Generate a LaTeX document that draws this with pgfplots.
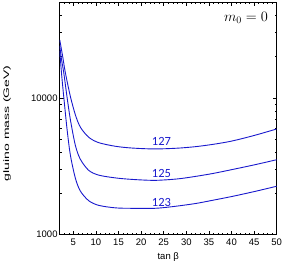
\documentclass[border=0pt]{standalone}
\usepackage{graphicx}
\usepackage{fontspec}
\setmainfont{Liberation Sans}
\newfontfamily\lblfont{Carlito}
\usepackage{pgfplots}
\pgfplotsset{compat=1.18}
\definecolor{cblue}{RGB}{25,25,205}
\begin{document}
\begin{tikzpicture}
\path (-59.3pt,-35pt) rectangle (226.7pt,235pt);
\begin{axis}[
  at={(0,0)}, anchor=south west,
  scale only axis, width=217.4pt, height=232.8pt,
  xmin=2, xmax=50, ymode=log, ymin=1000, ymax=50000,
  xtick={5,10,...,50},
  minor xtick={2,...,50},
  ytick={1000,10000}, yticklabels={1000,10000},
  minor ytick={2000,3000,4000,5000,6000,7000,8000,9000,20000,30000,40000},
  tick align=inside,
  major tick length=4pt, minor tick length=2pt,
  tick style={black, line width=0.5pt},
  axis line style={line width=0.6pt},
  /pgf/number format/assume math mode=true,
  tick label style={font=\fontsize{9.5}{11}\selectfont},
  xticklabel style={anchor=center, yshift=-8pt},
  yticklabel style={anchor=east, inner sep=0pt, xshift=-2pt},
]
\addplot[cblue, line width=0.9pt, smooth, no marks] coordinates {(2,26500) (2.6,20500) (3.26,15150) (4.36,10200) (5.46,7500) (6.56,6100) (8.39,5150) (10.6,4700) (14.3,4420) (18,4290) (23,4225) (28,4280) (32,4390) (36,4570) (40,4820) (45,5300) (50,5915)};
\addplot[cblue, line width=0.9pt, smooth, no marks] coordinates {(2,24000) (2.4,19000) (2.9,15150) (3.6,10200) (4.36,6900) (5.46,4480) (6.56,3550) (8.39,2950) (10.6,2720) (14.3,2595) (18,2530) (23,2490) (28,2550) (32,2660) (36,2800) (40,2980) (45,3230) (50,3525)};
\addplot[cblue, line width=0.9pt, smooth, no marks] coordinates {(2,22000) (2.4,15000) (2.88,10200) (3.63,5840) (4.36,3800) (5.46,2580) (6.56,2080) (8.39,1770) (10.6,1635) (14.3,1567) (18,1555) (23,1555) (27,1600) (32,1685) (36,1785) (40,1895) (45,2060) (50,2255)};
\node[text=cblue, font=\lblfont\fontsize{12.5}{14}\selectfont] at (axis cs:24.5,4800) {127};
\node[text=cblue, font=\lblfont\fontsize{12.5}{14}\selectfont] at (axis cs:24.5,2785) {125};
\node[text=cblue, font=\lblfont\fontsize{12.5}{14}\selectfont] at (axis cs:24.5,1714) {123};
\node[anchor=east, font=\fontsize{14}{16}\selectfont, inner sep=0pt] at (rel axis cs:0.96,0.932) {$m_0 = 0$};
\end{axis}
\node[font=\fontsize{9.5}{11}\selectfont] at (108.7pt,-23pt) {tan β};
\node[rotate=90] at (-52.8pt,111.5pt) {\scalebox{1.75}[1]{\fontsize{8}{9}\selectfont gluino mass (GeV)}};
\end{tikzpicture}
\end{document}
